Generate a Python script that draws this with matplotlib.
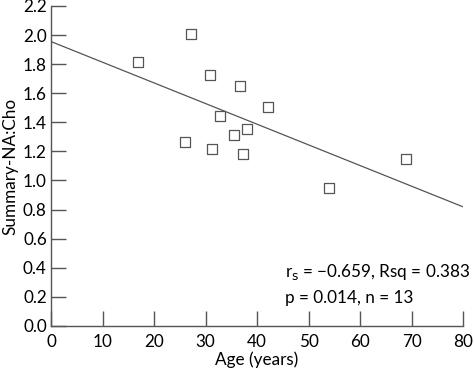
import numpy as np
import matplotlib
matplotlib.use("Agg")
from matplotlib import pyplot as plt

# values
age = [16.9, 27.2, 30.9, 36.7, 42.1, 32.8, 38.1, 35.5, 26.0, 31.3, 37.3, 54.0, 69.0]
na_cho = [1.815, 2.007, 1.726, 1.650, 1.506, 1.444, 1.354, 1.313, 1.265, 1.217, 1.183, 0.949, 1.146]
fit_intercept = 1.955
fit_slope = -0.0142
x_ticks = [0, 10, 20, 30, 40, 50, 60, 70, 80]
y_ticks = [0.0, 0.2, 0.4, 0.6, 0.8, 1.0, 1.2, 1.4, 1.6, 1.8, 2.0, 2.2]

plt.rcParams['font.family'] = ['Lato', 'DejaVu Sans']
grey = '#555555'
fs = 12.3

fig = plt.figure(figsize=(4.74, 3.70), dpi=100)
ax = fig.add_axes([0.1076, 0.119, 0.8692, 0.865])

ax.scatter(age, na_cho, marker='s', s=42, facecolors='white',
           edgecolors=grey, linewidths=0.9, zorder=3)

fx = np.array([0, 80])
ax.plot(fx, fit_intercept + fit_slope * fx, color=grey, lw=0.9, zorder=2)

ax.set_xlim(0, 80)
ax.set_ylim(0, 2.2)
ax.set_xticks(x_ticks)
ax.set_yticks(y_ticks)
ax.set_yticklabels([f'{v:.1f}' for v in y_ticks])

for s in ['top', 'right']:
    ax.spines[s].set_visible(False)
for s in ['left', 'bottom']:
    ax.spines[s].set_color(grey)
    ax.spines[s].set_linewidth(1.0)

ax.tick_params(direction='in', length=11, width=1.0, color=grey,
               labelsize=fs, pad=3)
ax.tick_params(axis='x', pad=6)

ax.set_xlabel('Age (years)', fontsize=fs, labelpad=1)
ax.set_ylabel('Summary-NA:Cho', fontsize=fs, labelpad=3)

ax.text(0.568, 0.17, r'r$_{\rm s}$ = ' + '\u22120.659, Rsq = 0.383',
        transform=ax.transAxes, fontsize=fs, ha='left', va='center')
ax.text(0.568, 0.087, 'p = 0.014, n = 13',
        transform=ax.transAxes, fontsize=fs, ha='left', va='center')

fig.savefig('out.png', dpi=100)
